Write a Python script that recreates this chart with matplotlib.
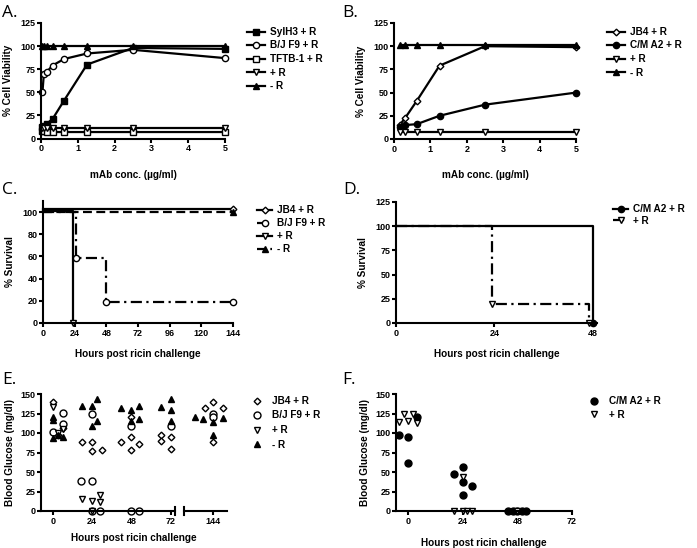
import numpy as np
import matplotlib.pyplot as plt

plt.rcParams['font.family'] = ['Liberation Sans', 'DejaVu Sans']
plt.rcParams['font.weight'] = 'bold'
plt.rcParams['axes.labelweight'] = 'bold'

# ---- panel A: cell viability ----
a_conc = [0.039, 0.078, 0.156, 0.3125, 0.625, 1.25, 2.5, 5]
a_sylh3 = [12, 13, 16, 21, 41, 80, 98, 97]
a_bjf9 = [50, 70, 72, 79, 86, 92, 96, 87]
a_tftb = [8, 8, 7, 7, 7, 7, 7, 7]
a_plusr = [11, 11, 11, 11, 11, 11, 11, 11]
a_minusr = [100, 100, 100, 100, 100, 100, 100, 100]

# ---- panel B ----
b_conc = [0.156, 0.3125, 0.625, 1.25, 2.5, 5]
b_jb4 = [15, 23, 41, 79, 100, 99]
b_cma2 = [13, 15, 16, 25, 37, 50]
b_plusr = [8, 8, 8, 8, 8, 8]
b_minusr = [101, 101, 101, 101, 101, 101]

# ---- panel C: survival ----
c_jb4_t, c_jb4_s = [0, 144], [103, 103]
c_bjf9_t, c_bjf9_s = [0, 25, 48, 144], [100, 59, 19, 19]
c_plusr_t, c_plusr_s = [0, 23], [101, 0]
c_minusr_t, c_minusr_s = [0, 144], [100, 100]

# ---- panel D ----
d_cma2_t, d_cma2_s = [0, 48], [100, 0]
d_plusr_t, d_plusr_s = [0, 23.5, 47], [100, 20, 0]

# ---- panel E: blood glucose ----
e_jb4_t = [0, 3, 6, 18, 24, 24, 30, 42, 48, 48, 53, 48, 66, 66, 72, 72, 139, 144, 150, 144]
e_jb4_g = [140, 98, 106, 89, 89, 77, 78, 88, 95, 78, 86, 121, 97, 90, 95, 79, 132, 140, 132, 89]
e_bjf9_t = [0, 6, 6, 17, 24, 24, 24, 29, 48, 48, 53, 72, 144, 144]
e_bjf9_g = [101, 126, 111, 39, 38, 124, 0, 0, 109, 0, 0, 109, 125, 120]
e_plusr_t = [0, 6, 3, 18, 24, 29, 29, 24]
e_plusr_g = [133, 105, 100, 15, 13, 21, 12, 0]
e_minusr_t = [0, 0, 0, 3, 6, 18, 24, 27, 27, 24, 42, 48, 53, 53, 48, 66, 72, 72, 72,
              133, 138, 144, 150, 144]
e_minusr_g = [120, 117, 93, 97, 95, 135, 134, 143, 116, 109, 132, 129, 135, 118, 115, 133, 143, 129, 116,
              120, 118, 114, 119, 98]

# ---- panel F ----
f_cma2_t = [-4, 0, 0, 4, 20, 24, 24, 24, 28, 44, 46, 48, 50, 52]
f_cma2_g = [97, 95, 61, 121, 48, 56, 37, 21, 32, 0, 0, 0, 0, 0]
f_plusr_t = [-4, -2, 0, 2, 4, 24, 20, 24, 26, 28, 48]
f_plusr_g = [114, 124, 116, 124, 113, 44, 0, 0, 0, 0, 0]

W, H = 697, 548
fig = plt.figure(figsize=(W / 100, H / 100), dpi=100)

TICK = 6.5
LAB = 7.2


def box(l, t, r, b):
    return fig.add_axes([l / W, 1 - b / H, (r - l) / W, (b - t) / H])


def prism(ax, left=True):
    ax.spines['top'].set_visible(False)
    ax.spines['right'].set_visible(False)
    ax.spines['left'].set_visible(left)
    for s in ['left', 'bottom']:
        ax.spines[s].set_linewidth(1.5)
    ax.tick_params(width=1.5, length=3, labelsize=TICK, pad=1)
    ax.patch.set_alpha(0)


def legend(ax, x, y, spacing=0.45, hl=1.8, pad=0.5):
    ax.legend(loc='upper left', bbox_to_anchor=(x / W, 1 - y / H), bbox_transform=fig.transFigure,
              frameon=False, fontsize=LAB, borderpad=0, borderaxespad=0, labelspacing=spacing,
              handlelength=hl, handletextpad=pad)


def letter(x, y, s):
    fig.text(x / W, 1 - y / H, s, fontsize=12.5, fontweight='normal', family='Open Sans',
             ha='left', va='center')


kw = dict(color='black', lw=1.6, ms=4.5, mew=1.0, clip_on=False)

# A
ax = box(41, 23, 225, 138.5)
prism(ax)
ax.plot(a_conc, a_sylh3, marker='s', mfc='black', label='SylH3 + R', **kw)
ax.plot(a_conc, a_bjf9, marker='o', mfc='white', label='B/J F9 + R', **kw)
ax.plot(a_conc, a_tftb, marker='s', mfc='white', label='TFTB-1 + R', **kw)
ax.plot(a_conc, a_plusr, marker='v', mfc='white', label='+ R', **kw)
ax.plot(a_conc, a_minusr, marker='^', mfc='black', label='- R', **kw)
ax.set_xlim(0, 5)
ax.set_ylim(0, 125)
ax.set_xticks([0, 1, 2, 3, 4, 5])
ax.set_yticks([0, 25, 50, 75, 100, 125])
ax.set_xlabel('mAb conc. (µg/ml)', fontsize=LAB, labelpad=12)
ax.set_ylabel('% Cell Viability', fontsize=LAB, labelpad=5)
legend(ax, 247, 27, spacing=0.35)
letter(2, 13, 'A.')

# B
ax = box(394, 23, 576, 139)
prism(ax)
ax.plot(b_conc, b_jb4, marker='D', mfc='white', label='JB4 + R', **{**kw, 'ms': 3.4})
ax.plot(b_conc, b_cma2, marker='o', mfc='black', label='C/M A2 + R', **kw)
ax.plot(b_conc, b_plusr, marker='v', mfc='white', label='+ R', **kw)
ax.plot(b_conc, b_minusr, marker='^', mfc='black', label='- R', **kw)
ax.set_xlim(0, 5)
ax.set_ylim(0, 125)
ax.set_xticks([0, 1, 2, 3, 4, 5])
ax.set_yticks([0, 25, 50, 75, 100, 125])
ax.set_xlabel('mAb conc. (µg/ml)', fontsize=LAB, labelpad=12)
ax.set_ylabel('% Cell Viability', fontsize=LAB, labelpad=5)
legend(ax, 607, 27, spacing=0.35)
letter(342, 13, 'B.')

# C
ax = box(43, 201, 233, 323)
prism(ax)
ax.plot(c_jb4_t, c_jb4_s, drawstyle='steps-post', marker='D', markevery=[1], mfc='white',
        label='JB4 + R', **{**kw, 'ms': 3.4})
ax.plot(c_bjf9_t, c_bjf9_s, drawstyle='steps-post', ls=(0, (5, 2, 1, 2)), marker='o', markevery=[1, 2, 3],
        mfc='white', label='B/J F9 + R', **kw)
ax.plot(c_plusr_t, c_plusr_s, drawstyle='steps-post', marker='v', markevery=[1], mfc='white',
        label='+ R', **kw)
ax.plot(c_minusr_t, c_minusr_s, ls=(0, (4, 2)), marker='^', markevery=[1], mfc='black',
        label='- R', **kw)
ax.set_xlim(0, 144)
ax.set_ylim(0, 110)
ax.set_xticks([0, 24, 48, 72, 96, 120, 144])
ax.set_yticks([0, 20, 40, 60, 80, 100])
ax.set_xlabel('Hours post ricin challenge', fontsize=LAB, labelpad=8)
ax.set_ylabel('% Survival', fontsize=LAB, labelpad=5)
legend(ax, 257, 205, spacing=0.3, hl=1.5)
letter(2, 190, 'C.')

# D
ax = box(396, 202, 597, 323)
prism(ax)
ax.plot(d_cma2_t, d_cma2_s, drawstyle='steps-post', marker='o', markevery=[1], mfc='black',
        label='C/M A2 + R', **kw)
ax.plot(d_plusr_t, d_plusr_s, drawstyle='steps-post', ls=(0, (5, 2, 1, 2)), marker='v', markevery=[1, 2],
        mfc='white', label='+ R', **kw)
ax.set_xlim(0, 49)
ax.set_ylim(0, 125)
ax.set_xticks([0, 24, 48])
ax.set_yticks([0, 25, 50, 75, 100, 125])
ax.set_xlabel('Hours post ricin challenge', fontsize=LAB, labelpad=8)
ax.set_ylabel('% Survival', fontsize=LAB, labelpad=5)
legend(ax, 613, 204, spacing=0.15, hl=1.5)
letter(343, 190, 'D.')

# E (broken x axis)
sk = dict(ls='none', mew=1.0, clip_on=False, color='black')
e_sets = [(e_jb4_t, e_jb4_g, 'D', 'white', 3.4, 'JB4 + R'),
          (e_bjf9_t, e_bjf9_g, 'o', 'white', 5.0, 'B/J F9 + R'),
          (e_plusr_t, e_plusr_g, 'v', 'white', 4.8, '+ R'),
          (e_minusr_t, e_minusr_g, '^', 'black', 4.8, '- R')]
ax1 = box(41, 394, 175, 511)
ax2 = box(184, 394, 227, 511)
prism(ax1)
prism(ax2, left=False)
for t, g, m, fc, ms, lab in e_sets:
    t = np.array(t)
    g = np.array(g)
    lo = t < 100
    ax1.plot(t[lo], g[lo], marker=m, mfc=fc, ms=ms, label=lab, **sk)
    ax2.plot(t[~lo], g[~lo], marker=m, mfc=fc, ms=ms, **sk)
ax1.set_xlim(-7.2, 74.7)
ax2.set_xlim(126.1, 152.4)
for a in (ax1, ax2):
    a.set_ylim(0, 150)
ax1.set_yticks([0, 25, 50, 75, 100, 125, 150])
ax2.set_yticks([])
ax1.set_xticks([0, 24, 48, 72])
ax2.set_xticks([144])
ax1.plot([1, 1], [-0.03, 0.03], transform=ax1.transAxes, color='black', lw=1.5, clip_on=False)
ax2.plot([0, 0], [-0.03, 0.03], transform=ax2.transAxes, color='black', lw=1.5, clip_on=False)
ax1.set_ylabel('Blood Glucose (mg/dl)', fontsize=LAB, labelpad=4)
fig.text(134 / W, 1 - 538 / H, 'Hours post ricin challenge', fontsize=LAB, fontweight='bold',
         ha='center', va='center')
legend(ax1, 252, 396, spacing=0.45, hl=1.0, pad=1.0)
letter(2, 380, 'E.')

# F
ax = box(396, 394, 572, 511)
prism(ax)
ax.plot(f_cma2_t, f_cma2_g, marker='o', mfc='black', ms=5.0, label='C/M A2 + R', **sk)
ax.plot(f_plusr_t, f_plusr_g, marker='v', mfc='white', ms=4.8, label='+ R', **sk)
ax.set_xlim(-5.3, 72)
ax.set_ylim(0, 150)
ax.set_xticks([0, 24, 48, 72])
ax.set_yticks([0, 25, 50, 75, 100, 125, 150])
ax.set_xlabel('Hours post ricin challenge', fontsize=LAB, labelpad=9)
ax.set_ylabel('Blood Glucose (mg/dl)', fontsize=LAB, labelpad=4)
legend(ax, 589, 396, spacing=0.35, hl=1.0, pad=1.0)
letter(342, 380, 'F.')

fig.savefig('out.png', dpi=100)
